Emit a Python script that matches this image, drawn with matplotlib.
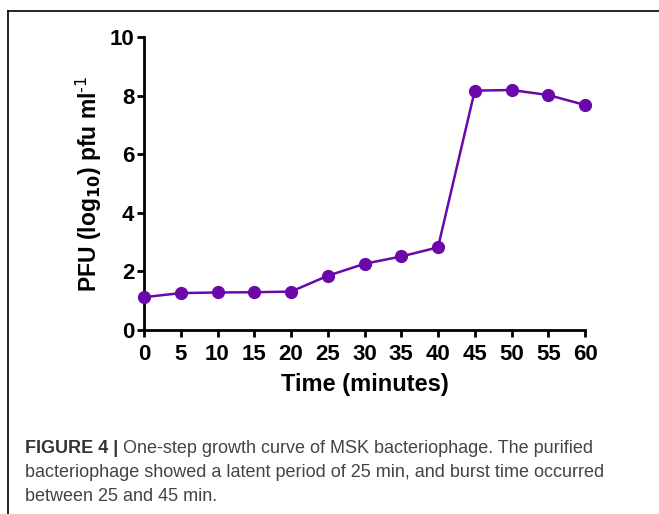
import matplotlib
matplotlib.use("Agg")
import matplotlib.pyplot as plt
from matplotlib.lines import Line2D

# one-step growth curve values
time_min = [0, 5, 10, 15, 20, 25, 30, 35, 40, 45, 50, 55, 60]
pfu_log = [1.12, 1.26, 1.28, 1.29, 1.31, 1.85, 2.26, 2.51, 2.82, 8.17, 8.19, 8.02, 7.68]
x_ticks = list(range(0, 61, 5))
y_ticks = [0, 2, 4, 6, 8, 10]

caption_bold = "FIGURE 4 |"
caption_lines = [
    " One-step growth curve of MSK bacteriophage. The purified",
    "bacteriophage showed a latent period of 25 min, and burst time occurred",
    "between 25 and 45 min.",
]

purple = "#6B08AA"
W, H = 659, 514

plt.rcParams["font.family"] = ["Liberation Sans", "DejaVu Sans"]
plt.rcParams["mathtext.default"] = "bf"
fig = plt.figure(figsize=(W / 100, H / 100), dpi=100)
ax = fig.add_axes([144 / W, 1 - 330 / H, (585 - 144) / W, (330 - 37) / H])

ax.plot(time_min, pfu_log, color=purple, lw=1.8, marker="o", ms=8.5,
        clip_on=False, zorder=3)

ax.set_xlim(0, 60)
ax.set_ylim(0, 10)
ax.set_xticks(x_ticks)
ax.set_yticks(y_ticks)
for side in ["top", "right"]:
    ax.spines[side].set_visible(False)
for side in ["left", "bottom"]:
    ax.spines[side].set_linewidth(2)
ax.tick_params(width=2, length=5, labelsize=16)
ax.tick_params(axis="x", pad=5)
ax.tick_params(axis="y", pad=2)
for lab in ax.get_xticklabels() + ax.get_yticklabels():
    lab.set_fontweight("bold")

ax.set_xlabel("Time (minutes)", fontsize=17, fontweight="bold", labelpad=6)
ax.set_ylabel(r"PFU (log$_{10}$) pfu ml$^{\text{-1}}$", fontsize=16.5,
              fontweight="bold", labelpad=4)

# frame around the figure, cut by the image edges
fig.add_artist(Line2D([8 / W, 1.0], [1 - 11 / H, 1 - 11 / H], color="black", lw=1.2))
fig.add_artist(Line2D([8 / W, 8 / W], [1 - 11 / H, 0.0], color="black", lw=1.2))

# caption
y0 = 1 - 453 / H
bold = fig.text(25 / W, y0, caption_bold, fontsize=13, fontweight="bold",
                color="#333333", va="baseline")
fig.canvas.draw()
bb = bold.get_window_extent()
fig.text(bb.x1 / W, y0, caption_lines[0], fontsize=13, color="#444444", va="baseline")
for i, line in enumerate(caption_lines[1:], start=1):
    fig.text(25 / W, y0 - i * 24 / H, line, fontsize=13, color="#444444", va="baseline")

fig.savefig("out.png", dpi=100)
